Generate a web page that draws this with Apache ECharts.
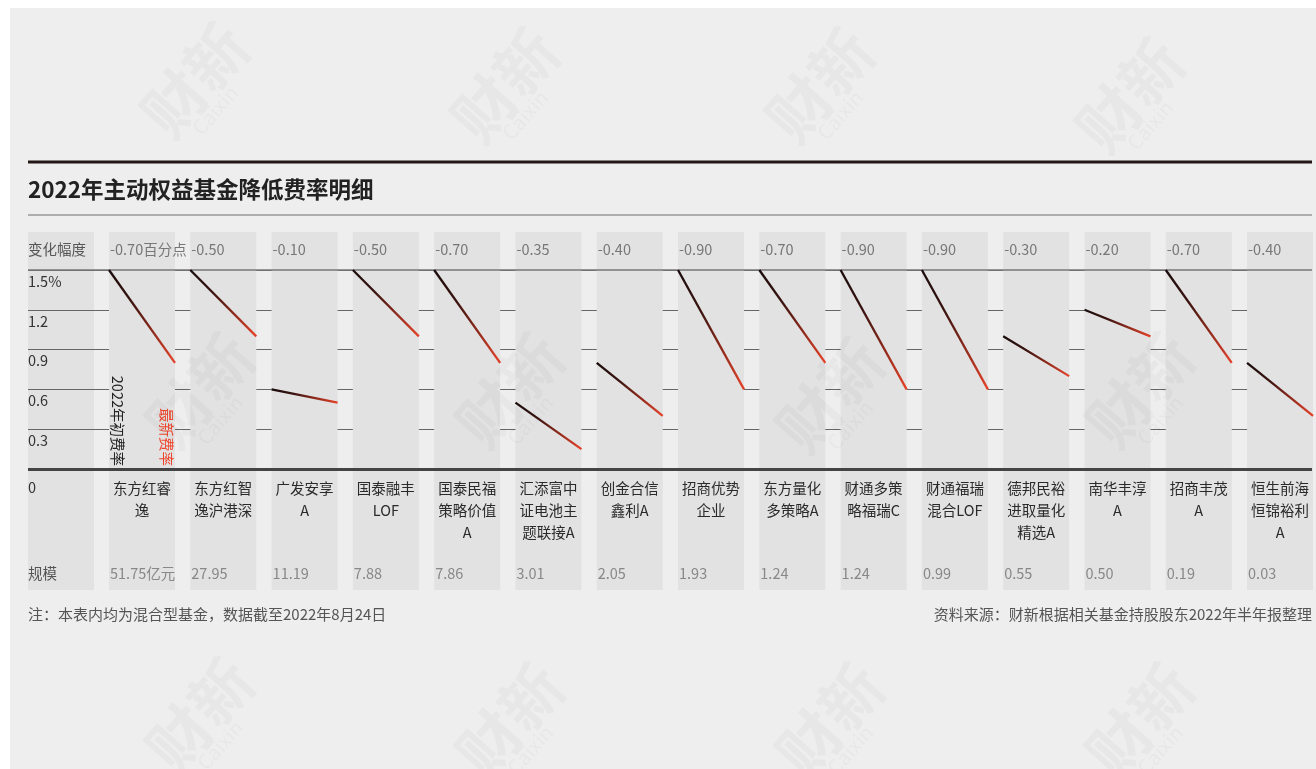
<!DOCTYPE html>
<html><head><meta charset="utf-8">
<script src="https://cdn.jsdelivr.net/npm/echarts@6/dist/echarts.min.js"></script>
<style>
html,body{margin:0;padding:0;background:#fff}
#main{width:1316px;height:769px;background:#eeeeee;box-shadow:inset 10px 8px 0 #fff}
</style>
</head><body><div id="main"></div>
<script>
// ---- data ----
const funds = ['东方红睿\n逸','东方红智\n逸沪港深','广发安享\nA','国泰融丰\nLOF','国泰民福\n策略价值\nA','汇添富中\n证电池主\n题联接A','创金合信\n鑫利A','招商优势\n企业','东方量化\n多策略A','财通多策\n略福瑞C','财通福瑞\n混合LOF','德邦民裕\n进取量化\n精选A','南华丰淳\nA','招商丰茂\nA','恒生前海\n恒锦裕利\nA'];
const startRates  = [1.5, 1.5, 0.6, 1.5, 1.5, 0.5, 0.8, 1.5, 1.5, 1.5, 1.5, 1.0, 1.2, 1.5, 0.8];
const latestRates = [0.8, 1.0, 0.5, 1.0, 0.8, 0.15, 0.4, 0.6, 0.8, 0.6, 0.6, 0.7, 1.0, 0.8, 0.4];
const changeLabels = ['-0.70百分点','-0.50','-0.10','-0.50','-0.70','-0.35','-0.40','-0.90','-0.70','-0.90','-0.90','-0.30','-0.20','-0.70','-0.40'];
const sizeLabels = ['51.75亿元','27.95','11.19','7.88','7.86','3.01','2.05','1.93','1.24','1.24','0.99','0.55','0.50','0.19','0.03'];
const yTickLabels = ['0','0.3','0.6','0.9','1.2','1.5%'];
const pointNames = ['2022年初费率','最新费率'];
const titleText = '2022年主动权益基金降低费率明细';
const rowLabels = ['变化幅度','规模'];
const noteText = '注：本表内均为混合型基金，数据截至2022年8月24日';
const sourceText = '资料来源：财新根据相关基金持股股东2022年半年报整理';

// ---- layout ----
const FONT = '"Noto Sans CJK SC", "Noto Sans", sans-serif';
const LEFT = 28, RIGHT = 1312;
const P0 = 109, PITCH = 81.29, PW = 66;
const PLOT_TOP = 270, PLOT_H = 199;
const COL_TOP = 232, COL_H = 358;
const RED = '#f0442a', DARK = '#160b0b';

const chart = echarts.init(document.getElementById('main'));

const grids = [{left: LEFT, width: RIGHT - LEFT, top: PLOT_TOP, height: PLOT_H}];
const xAxes = [{gridIndex: 0, type: 'value', min: 0, max: 1, show: false}];
const yAxes = [{
  gridIndex: 0, type: 'value', min: 0, max: 1.5, interval: 0.3, z: 1,
  axisLine: {show: false}, axisTick: {show: false},
  splitLine: {show: true, lineStyle: {color: '#666', width: 1}},
  axisLabel: {
    inside: true, margin: 0, align: 'left', verticalAlign: 'top',
    color: '#333', fontSize: 14.5, fontFamily: FONT,
    formatter: (v) => {
      const i = Math.round(v / 0.3);
      return i === 0 ? '{z|' + yTickLabels[0] + '}' : '{n|' + yTickLabels[i] + '}';
    },
    rich: {
      z: {padding: [11, 0, 0, 0], fontSize: 14.5, color: '#333', fontFamily: FONT},
      n: {padding: [4, 0, 0, 0], fontSize: 14.5, color: '#333', fontFamily: FONT}
    }
  }
}];
const series = [{
  type: 'line', xAxisIndex: 0, yAxisIndex: 0, data: [], z: 4, silent: true,
  markLine: {
    silent: true, symbol: ['none', 'none'], label: {show: false}, z: 4,
    data: [
      {yAxis: 1.5, lineStyle: {color: '#777', width: 1.5, type: 'solid'}},
      {yAxis: 0, lineStyle: {color: '#444', width: 3, type: 'solid'}}
    ]
  }
}];

const graphics = [
  {type: 'line', z: 3, shape: {x1: LEFT, y1: 162, x2: RIGHT, y2: 162}, style: {stroke: '#231816', lineWidth: 3}},
  {type: 'text', z: 3, x: LEFT, y: 189, style: {text: titleText, font: 'bold 22.5px ' + FONT, fill: '#222', verticalAlign: 'middle'}},
  {type: 'line', z: 3, shape: {x1: LEFT, y1: 215, x2: RIGHT, y2: 215}, style: {stroke: '#999', lineWidth: 1.5}},
  {type: 'rect', z: 0, shape: {x: LEFT, y: COL_TOP, width: 66, height: COL_H}, style: {fill: '#e2e2e2'}},
  {type: 'text', z: 6, x: LEFT, y: 249, style: {text: rowLabels[0], font: '14.5px ' + FONT, fill: '#555', verticalAlign: 'middle'}},
  {type: 'text', z: 6, x: LEFT, y: 573, style: {text: rowLabels[1], font: '14.5px ' + FONT, fill: '#555', verticalAlign: 'middle'}},
  {type: 'text', z: 6, x: LEFT, y: 614, style: {text: noteText, font: '15px ' + FONT, fill: '#555', verticalAlign: 'middle'}},
  {type: 'text', z: 6, x: RIGHT, y: 614, style: {text: sourceText, font: '15px ' + FONT, fill: '#555', align: 'right', verticalAlign: 'middle'}}
];

// watermarks
const wm = [[195,80],[505,85],[820,85],[1130,95],[200,390],[510,390],[830,395],[1140,390],[200,715],[510,720],[830,720],[1140,720]];
wm.forEach(([x, y]) => {
  graphics.push({type: 'text', z: 7, x: x, y: y, rotation: Math.PI * 0.27, silent: true,
    style: {text: '财新', font: 'bold 62px ' + FONT, fill: 'rgba(0,0,0,0.028)', align: 'center', verticalAlign: 'middle'}});
  graphics.push({type: 'text', z: 7, x: x + 20, y: y + 30, rotation: Math.PI * 0.27, silent: true,
    style: {text: 'Caixin', font: '20px ' + FONT, fill: 'rgba(0,0,0,0.028)', align: 'center', verticalAlign: 'middle'}});
});

funds.forEach((name, i) => {
  const k = i + 1;
  const left = P0 + i * PITCH;
  grids.push({left: left, width: PW, top: PLOT_TOP, height: PLOT_H});
  xAxes.push({
    gridIndex: k, type: 'category', data: pointNames, boundaryGap: false, z: 5,
    axisLine: {show: false}, axisTick: {show: false}, axisLabel: {show: false}, splitLine: {show: false},
    name: name, nameLocation: 'middle', nameGap: 8,
    nameTextStyle: {color: '#2a2a2a', fontSize: 14.5, lineHeight: 22, fontFamily: FONT, verticalAlign: 'top', align: 'center'}
  });
  yAxes.push({gridIndex: k, type: 'value', min: 0, max: 1.5, show: false});
  series.push({
    type: 'line', xAxisIndex: k, yAxisIndex: k, z: 5,
    data: [startRates[i], latestRates[i]],
    symbol: 'none', silent: true,
    lineStyle: {width: 2.3, color: new echarts.graphic.LinearGradient(0, 0, 1, 0, [
      {offset: 0, color: DARK}, {offset: 0.35, color: '#3a1410'}, {offset: 1, color: RED}])}
  });
  graphics.push({type: 'rect', z: 2, shape: {x: left, y: COL_TOP, width: PW, height: COL_H}, style: {fill: '#e2e2e2'}});
  graphics.push({type: 'text', z: 6, x: left + 1, y: 249, style: {text: changeLabels[i], font: '14.5px ' + FONT, fill: '#777', verticalAlign: 'middle'}});
  graphics.push({type: 'text', z: 6, x: left + 1, y: 573, style: {text: sizeLabels[i], font: '14.5px ' + FONT, fill: '#888', verticalAlign: 'middle'}});
});

// vertical point-name annotations in first panel
graphics.push({type: 'text', z: 6, x: P0 + 9, y: 466, rotation: -Math.PI / 2,
  style: {text: pointNames[0], font: '14.5px ' + FONT, fill: '#222', align: 'right', verticalAlign: 'middle'}});
graphics.push({type: 'text', z: 6, x: P0 + PW - 8, y: 466, rotation: -Math.PI / 2,
  style: {text: pointNames[1], font: '14.5px ' + FONT, fill: RED, align: 'right', verticalAlign: 'middle'}});

chart.setOption({
  animation: false,
  textStyle: {fontFamily: FONT},
  grid: grids, xAxis: xAxes, yAxis: yAxes, series: series,
  graphic: {elements: graphics}
});
</script>
</body></html>
